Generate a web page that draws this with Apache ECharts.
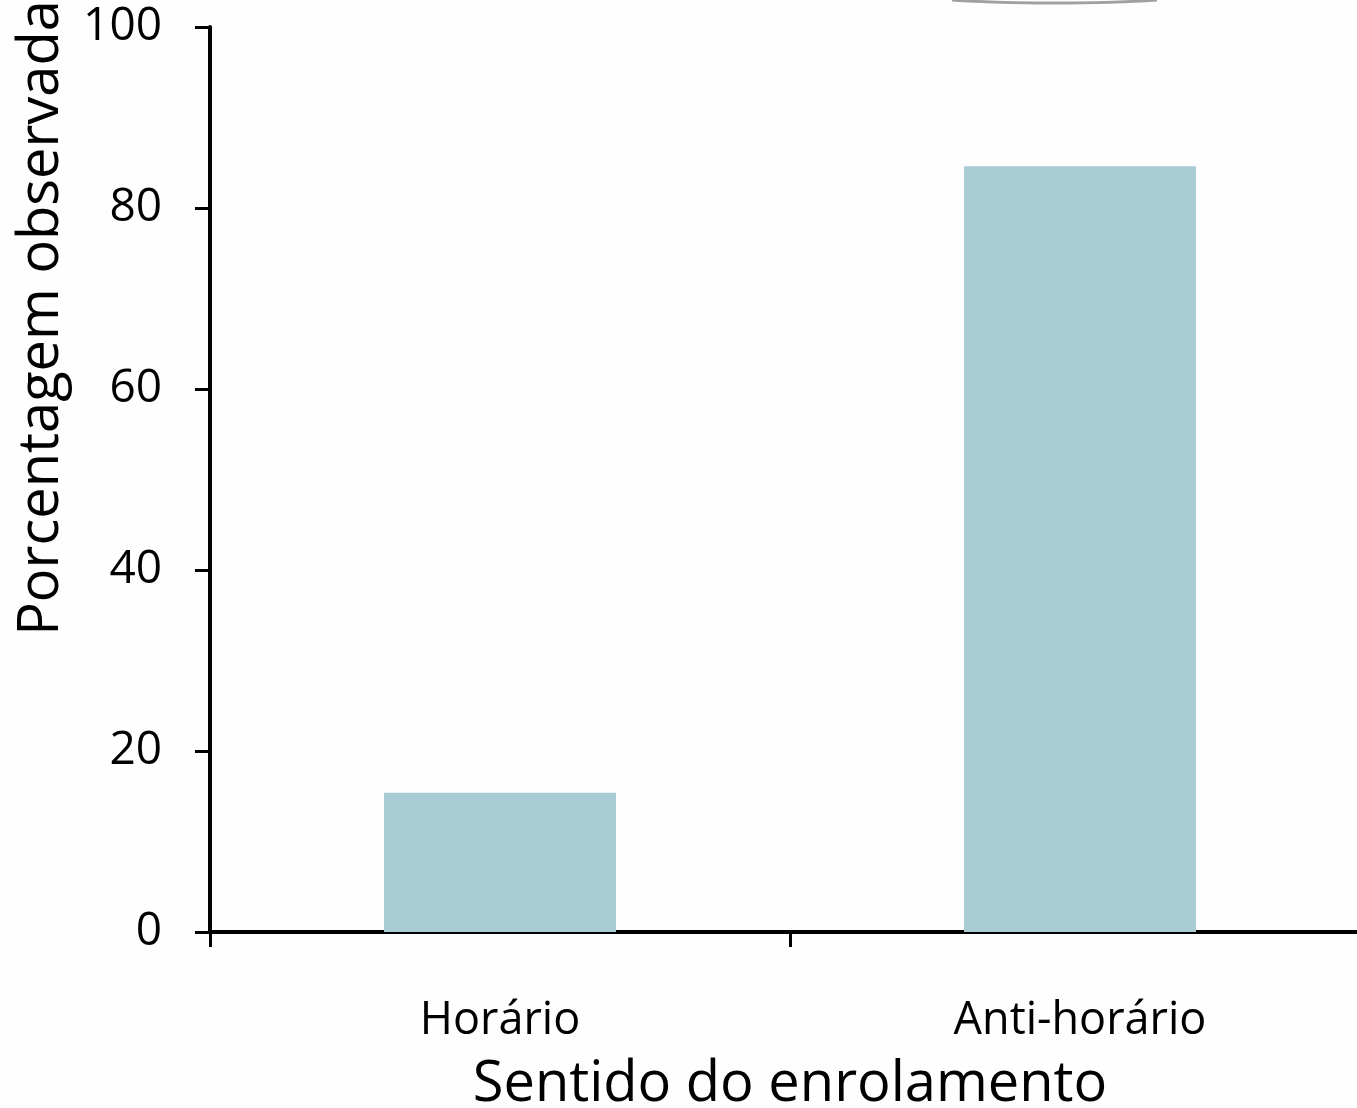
<!DOCTYPE html>
<html>
<head>
<meta charset="utf-8">
<script src="https://cdn.jsdelivr.net/npm/echarts@6/dist/echarts.min.js"></script>
<style>
html,body{margin:0;padding:0;background:#fefefe;}
#chart{width:1357px;height:1108px;}
</style>
</head>
<body>
<div id="chart"></div>
<script>
const categories = ['Horário', 'Anti-horário'];
const values = [15.4, 84.6];
const yTicks = [0, 20, 40, 60, 80, 100];
const xAxisTitle = 'Sentido do enrolamento';
const yAxisTitle = 'Porcentagem observada';

const FONT = '"Open Sans"';
const chart = echarts.init(document.getElementById('chart'), null, {renderer: 'canvas'});
chart.setOption({
  backgroundColor: '#fefefe',
  animation: false,
  grid: {left: 210, top: 27, right: -13, bottom: 176, containLabel: false, outerBoundsMode: 'none'},
  xAxis: {
    type: 'category',
    data: categories,
    boundaryGap: true,
    axisLine: {lineStyle: {color: '#000', width: 4}},
    axisTick: {show: true, length: 15, lineStyle: {color: '#000', width: 3}},
    axisLabel: {color: '#000', fontFamily: FONT, fontSize: 45, margin: 67},
    name: xAxisTitle,
    nameLocation: 'middle',
    nameGap: 125,
    nameTextStyle: {color: '#000', fontFamily: FONT, fontSize: 56}
  },
  yAxis: {
    type: 'value',
    min: yTicks[0],
    max: yTicks[yTicks.length - 1],
    interval: yTicks[1] - yTicks[0],
    splitLine: {show: false},
    axisLine: {show: true, lineStyle: {color: '#000', width: 4}},
    axisTick: {show: true, length: 15, lineStyle: {color: '#000', width: 3}},
    axisLabel: {color: '#000', fontFamily: FONT, fontSize: 46, margin: 48}
  },
  graphic: [
    {
      type: 'text',
      x: 42, y: 318,
      rotation: Math.PI / 2,
      style: {text: yAxisTitle, fill: '#000', font: '56px ' + FONT, align: 'center', verticalAlign: 'middle'}
    },
    {
      type: 'bezierCurve',
      shape: {x1: 952, y1: 0, cpx1: 1010, cpy1: 4, cpx2: 1100, cpy2: 4, x2: 1157, y2: 0},
      style: {stroke: '#a0a0a0', lineWidth: 3, fill: null}
    }
  ],
  series: [{
    type: 'bar',
    data: values,
    barWidth: '40%',
    itemStyle: {color: '#a8cbd4'}
  }]
});
</script>
</body>
</html>
